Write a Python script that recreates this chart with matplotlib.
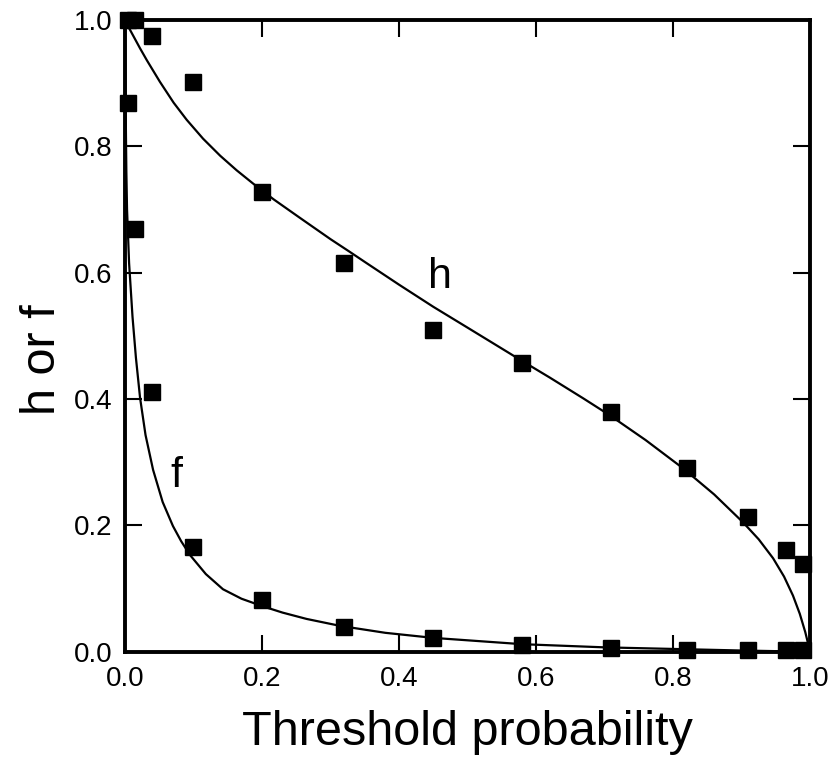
import matplotlib
matplotlib.use("Agg")
from matplotlib import pyplot as plt

plt.rcParams['font.family'] = ['Liberation Sans', 'DejaVu Sans']

# threshold probabilities of the measured points
thresholds = [0.005, 0.015, 0.04, 0.1, 0.2, 0.32, 0.45, 0.58, 0.71, 0.82, 0.91, 0.965, 0.99]
h_points = [1.0, 1.0, 0.975, 0.902, 0.728, 0.616, 0.509, 0.457, 0.380, 0.291, 0.214, 0.161, 0.139]
f_points = [0.868, 0.669, 0.411, 0.166, 0.082, 0.040, 0.022, 0.011, 0.006, 0.003, 0.003, 0.003, 0.003]

# fitted curves
h_curve_x = [0.0, 0.004, 0.012, 0.022, 0.032, 0.051, 0.071, 0.090, 0.114, 0.139, 0.163, 0.187,
             0.217, 0.255, 0.30, 0.328, 0.35, 0.40, 0.45, 0.50, 0.577, 0.62, 0.669, 0.708,
             0.76, 0.815, 0.86, 0.902, 0.925, 0.946, 0.962, 0.975, 0.985, 0.993, 1.0]
h_curve_y = [1.0, 0.991, 0.975, 0.955, 0.936, 0.902, 0.869, 0.842, 0.812, 0.785, 0.762, 0.741,
             0.716, 0.687, 0.653, 0.633, 0.617, 0.581, 0.546, 0.513, 0.462, 0.434, 0.401, 0.374,
             0.335, 0.290, 0.249, 0.205, 0.178, 0.148, 0.119, 0.089, 0.060, 0.031, 0.0]
f_curve_x = [0.0, 0.001, 0.002, 0.003, 0.006, 0.011, 0.016, 0.022, 0.030, 0.041, 0.055,
             0.070, 0.082, 0.095, 0.118, 0.143, 0.17, 0.201, 0.23, 0.265, 0.314, 0.38, 0.45,
             0.58, 0.70, 0.82, 0.90, 1.0]
f_curve_y = [1.0, 0.86, 0.76, 0.70, 0.615, 0.530, 0.465, 0.402, 0.343, 0.288, 0.237,
             0.199, 0.175, 0.153, 0.123, 0.099, 0.084, 0.072, 0.062, 0.052, 0.041, 0.030, 0.022,
             0.012, 0.007, 0.004, 0.002, 0.0]

fig = plt.figure(figsize=(8.36, 7.57), dpi=100)
ax = fig.add_axes([0.1495, 0.139, 0.8195, 0.8347])

ax.plot(h_curve_x, h_curve_y, 'k-', lw=1.6, clip_on=False)
ax.plot(f_curve_x, f_curve_y, 'k-', lw=1.6, clip_on=False)
ax.plot(thresholds, h_points, 'ks', ms=11.5, clip_on=False, zorder=5)
ax.plot(thresholds, f_points, 'ks', ms=11.5, clip_on=False, zorder=5)

ax.text(0.442, 0.575, "h", fontsize=31)
ax.text(0.066, 0.26, "f", fontsize=31)

ax.set_xlim(0, 1)
ax.set_ylim(0, 1)
ax.set_xticks([0.0, 0.2, 0.4, 0.6, 0.8, 1.0])
ax.set_yticks([0.0, 0.2, 0.4, 0.6, 0.8, 1.0])
ax.set_xticklabels(["0.0", "0.2", "0.4", "0.6", "0.8", "1.0"])
ax.set_yticklabels(["0.0", "0.2", "0.4", "0.6", "0.8", "1.0"])
ax.tick_params(direction='in', length=12, width=1.5, labelsize=20,
               top=True, right=True, color='k')
ax.tick_params(axis='x', pad=10)
ax.tick_params(axis='y', pad=9)
for s in ax.spines.values():
    s.set_linewidth(2.8)

ax.set_xlabel("Threshold probability", fontsize=35, labelpad=13)
ax.set_ylabel("h or f", fontsize=35)
ax.yaxis.set_label_coords(-0.088, 0.462)

fig.savefig("out.png", dpi=100)
